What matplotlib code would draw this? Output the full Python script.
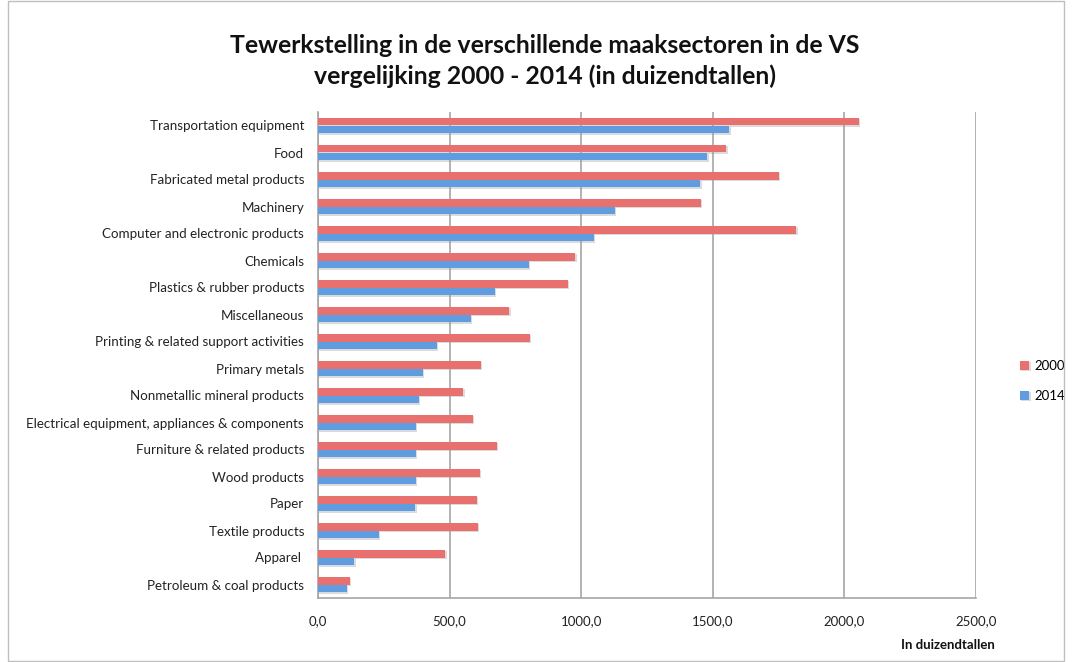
import matplotlib.pyplot as plt
import matplotlib.patheffects as pe
from matplotlib.patches import Rectangle
from matplotlib.ticker import FuncFormatter
import numpy as np

plt.rcParams['font.family'] = ['Lato', 'DejaVu Sans']

sectors = [
    'Transportation equipment',
    'Food',
    'Fabricated metal products',
    'Machinery',
    'Computer and electronic products',
    'Chemicals',
    'Plastics & rubber products',
    'Miscellaneous',
    'Printing & related support activities',
    'Primary metals',
    'Nonmetallic mineral products',
    'Electrical equipment, appliances & components',
    'Furniture & related products',
    'Wood products',
    'Paper',
    'Textile products',
    'Apparel ',
    'Petroleum & coal products',
]
jobs_2000 = [2055, 1551, 1751, 1455, 1817, 978, 950, 727, 805, 619,
             552, 589, 679, 614, 603, 607, 483, 122]
jobs_2014 = [1562, 1479, 1453, 1128, 1047, 802, 672, 581, 451, 399,
             384, 372, 372, 371, 370, 232, 138, 109]

red = '#E8706E'
blue = '#5F9CE0'

fig = plt.figure(figsize=(10.72, 6.62), dpi=100)
ax = fig.add_axes([318 / 1072, 1 - 598 / 662, (976 - 318) / 1072, (598 - 112) / 662])

y = np.arange(len(sectors))
h = 0.29
shadow = [pe.SimplePatchShadow(offset=(1, -1), shadow_rgbFace='#999999', alpha=0.35), pe.Normal()]
b1 = ax.barh(y - h / 2, jobs_2000, height=h, color=red, label='2000', zorder=3)
b2 = ax.barh(y + h / 2, jobs_2014, height=h, color=blue, label='2014', zorder=3)
for bar in list(b1) + list(b2):
    bar.set_path_effects(shadow)

ax.set_xlim(0, 2500)
ax.set_ylim(len(sectors) - 0.5, -0.5)
ax.set_yticks(y)
ax.set_yticklabels(sectors, fontsize=9.6, color='#222222')
ax.set_xticks(np.arange(0, 2501, 500))
ax.xaxis.set_major_formatter(FuncFormatter(lambda v, p: f'{v:.1f}'.replace('.', ',')))
ax.tick_params(axis='x', labelsize=9.5, length=0, pad=12, colors='#222222')
ax.tick_params(axis='y', length=0, pad=10)
ax.grid(axis='x', color='#A6A6A6', linewidth=1.2, zorder=0)

for side in ['top', 'right']:
    ax.spines[side].set_visible(False)
for side in ['left', 'bottom']:
    ax.spines[side].set_color('#A6A6A6')
    ax.spines[side].set_linewidth(1.2)

ax.legend(loc='center left', bbox_to_anchor=(1020 / 1072, 1 - 381 / 662),
          bbox_transform=fig.transFigure, frameon=False, borderaxespad=0, borderpad=0,
          fontsize=9.5, handlelength=0.7, handleheight=0.7, handletextpad=0.4,
          labelspacing=1.35)

fig.text(995 / 1072, 1 - 645 / 662, 'In duizendtallen', ha='right', va='center',
         fontsize=9.5, fontweight='bold', color='#111111')

fig.text(545 / 1072, 1 - 61 / 662,
         'Tewerkstelling in de verschillende maaksectoren in de VS\nvergelijking 2000 - 2014 (in duizendtallen)',
         ha='center', va='center', fontsize=17.8, fontweight='bold', color='#111111',
         linespacing=1.4)

# thin grey frame around the whole chart
fig.patches.append(Rectangle((8 / 1072, 0.002), 1 - 16 / 1072, 0.996, transform=fig.transFigure,
                             fill=False, edgecolor='#BFBFBF', linewidth=1))

fig.savefig('out.png', dpi=100)
